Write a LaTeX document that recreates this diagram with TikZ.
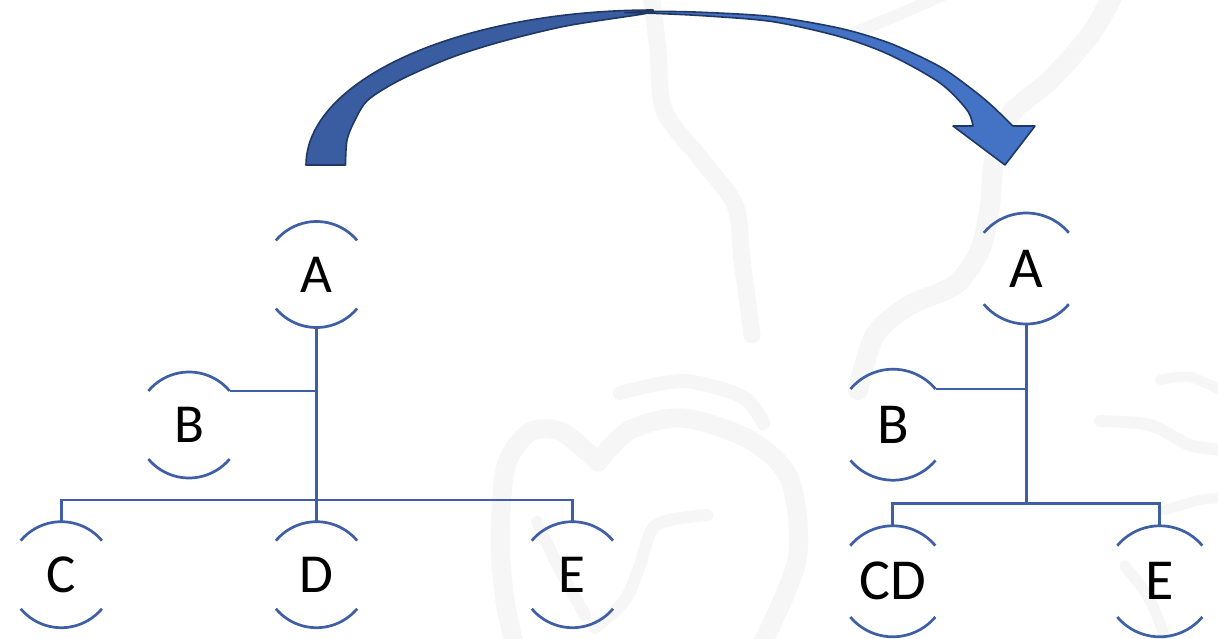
\documentclass[tikz,border=0pt]{standalone}
\usepackage{fontspec}
\setmainfont{Carlito}
\definecolor{orgblue}{RGB}{62,94,166}
\definecolor{arrowdark}{RGB}{57,93,160}
\definecolor{arrowlight}{RGB}{68,114,196}
\definecolor{arrowedge}{RGB}{31,56,100}
\definecolor{wmgray}{RGB}{246,246,246}
\begin{document}
\begin{tikzpicture}[x=1pt,y=-1pt,
  orgline/.style={draw=orgblue, line width=2.7pt},
  member/.style={circle, inner sep=0pt, outer sep=0pt, minimum size=#1},
  oldnode/.style={member=106pt, font=\fontsize{55}{60}\selectfont},
  newnode/.style={member=111pt, font=\fontsize{58}{64}\selectfont},
  haze/.style={draw=wmgray, line cap=round, line join=round},
  band/.style={draw=arrowedge, line width=1.6pt, line join=round}]

% canvas
\path[use as bounding box] (0,0) rectangle (1218,639);
\fill[white] (0,0) rectangle (1218,639);

% faint background ornament
\draw[haze, line width=17pt] plot[smooth] coordinates {(651,-8) (658,50) (664,110) (700,158) (735,205) (742,260) (752,335)};
\draw[haze, line width=20pt] plot[smooth] coordinates {(1115,-8) (1090,35) (1050,80) (1010,115) (994,160) (990,205) (980,250) (955,285) (910,305) (875,335) (858,390)};
\draw[haze, line width=12pt] plot[smooth] coordinates {(856,32) (900,14) (945,-6)};
\draw[haze, line width=19pt] plot[smooth] coordinates {(760,648) (797,560) (790,480) (750,440) (683,418) (630,430) (598,462)};
\draw[haze, line width=19pt] plot[smooth] coordinates {(598,462) (562,432) (530,432) (506,466) (500,540) (505,600) (515,648)};
\draw[haze, line width=14pt] plot[smooth] coordinates {(620,393) (683,381) (743,397) (763,423)};
\draw[haze, line width=12pt] plot[smooth] coordinates {(537,522) (560,570) (585,615)};
\draw[haze, line width=12pt] plot[smooth] coordinates {(707,515) (656,525) (640,565) (625,600) (595,628)};
\draw[haze, line width=10pt] plot[smooth] coordinates {(1160,380) (1190,377) (1224,392)};
\draw[haze, line width=12pt] plot[smooth] coordinates {(1100,421) (1150,425) (1190,445) (1224,450)};
\draw[haze, line width=10pt] plot[smooth] coordinates {(1165,510) (1200,500) (1224,498)};
\draw[haze, line width=11pt] plot[smooth] coordinates {(1125,566) (1150,600) (1168,645)};

% curved arrow: back (darker) half, tapering to the crest
\filldraw[band, fill=arrowdark]
  (306,165) -- plot[domain=180:90, samples=50] ({653+347*cos(\x)},{165-155*sin(\x)})
  -- plot[smooth] coordinates {(653,11.5) (640,14.5) (566,26) (500,42) (450,58) (400,80) (368,100) (355,120) (347,140) (345.5,165)}
  -- cycle;
% curved arrow: front (lighter) half with head, starting from a point at the crest
\filldraw[band, fill=arrowlight]
  plot[smooth] coordinates {(625,12.6) (660,11.4) (707,12.5) (773,16.7) (840,28.3) (890,43.3) (940,66.7) (973,90) (993,106.7) (1012.7,126)}
  -- (1035,126) -- (1005,165) -- (953,126) -- (973,126)
  -- plot[smooth] coordinates {(973,126) (967,110) (940,83) (890,55) (840,36.7) (773,21.7) (707,16) (660,13.6) (625,12.6)}
  -- cycle;

% tree before the merge
\node[oldnode] (LA) at (316.5,274.5) {A};
\node[oldnode] (LB) at (189,425) {B};
\node[oldnode] (LC) at (61.3,574.7) {C};
\node[oldnode] (LD) at (316.5,574.7) {D};
\node[oldnode] (LE) at (572.4,574.7) {E};
\coordinate (Lj) at (316.5,500);

% tree after the merge
\node[newnode] (RA) at (1026.3,268.5) {A};
\node[newnode] (RB) at (893,424.7) {B};
\node[newnode] (RCD) at (892.8,581.3) {CD};
\node[newnode] (RE) at (1159.8,581.3) {E};
\coordinate (Rj) at (1026.3,503.3);

% half-circle brackets above and below every member
\foreach \nd/\r in {LA/53pt,LB/53pt,LC/53pt,LD/53pt,LE/53pt,RA/55.5pt,RB/55.5pt,RCD/55.5pt,RE/55.5pt}
  \draw[orgline] (\nd.40) arc[start angle=40,end angle=140,radius=\r]
                 (\nd.220) arc[start angle=220,end angle=320,radius=\r];

% connectors, left tree
\draw[orgline] (LA.south) -- (LD.north);
\draw[orgline] (LB.40) -- (LB.40 -| Lj);
\draw[orgline] (LC.north) -- (LC.north |- Lj) -- (LE.north |- Lj) -- (LE.north);

% connectors, right tree
\draw[orgline] (RA.south) -- (Rj);
\draw[orgline] (RB.40) -- (RB.40 -| Rj);
\draw[orgline] (RCD.north) -- (RCD.north |- Rj) -- (RE.north |- Rj) -- (RE.north);
\end{tikzpicture}
\end{document}
